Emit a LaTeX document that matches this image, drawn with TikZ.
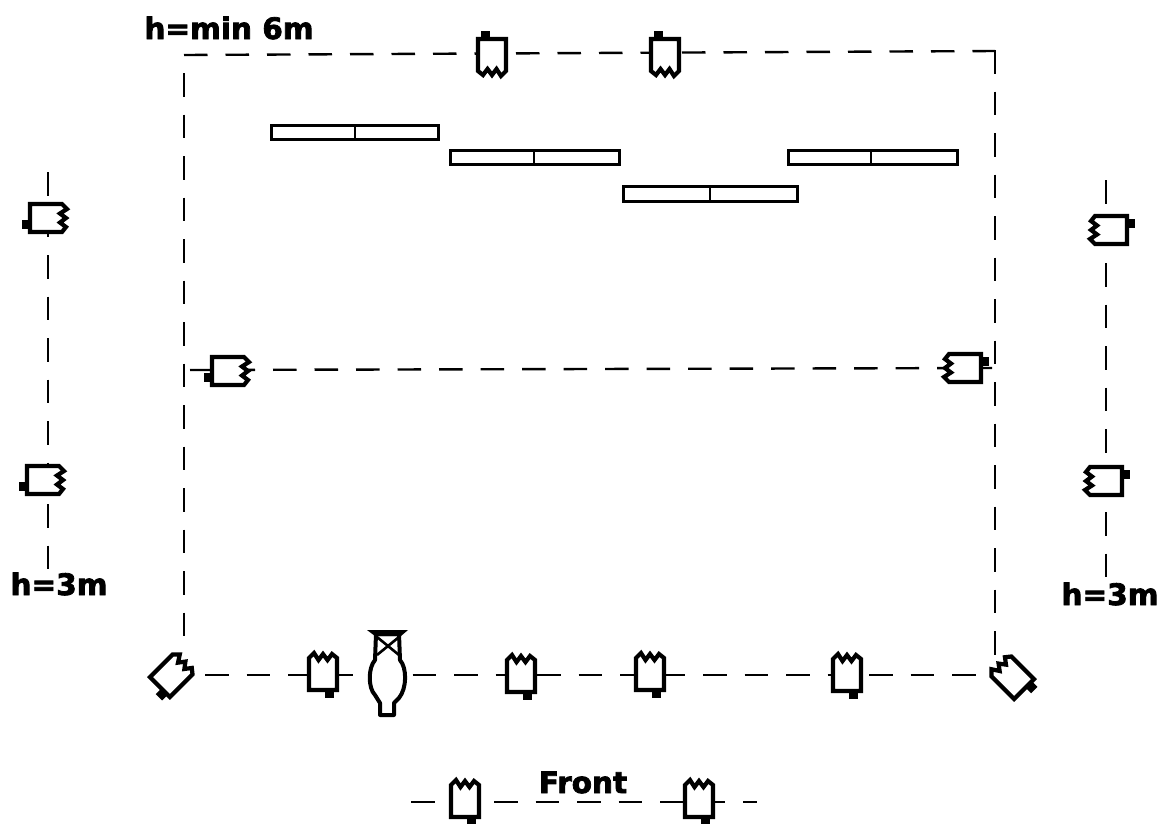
\documentclass[tikz,border=0pt]{standalone}
\usepackage{fontspec}
\newfontfamily\blk[FakeBold=2.6]{DejaVu Sans Bold}
\tikzset{
  x=1pt,y=-1pt,
  lampline/.style={line width=4.2pt,line join=miter,miter limit=3},
  guide/.style={line width=2.4pt,dash pattern=on 23.5pt off 18pt},
  panel/.style={draw,line width=3pt,fill=white},
  lbl/.style={font=\blk\fontsize{29.5}{30}\selectfont,inner sep=0pt,anchor=base},
  lamp/.pic={
    \fill (2,17) rectangle (11,25);
    \draw[lampline,fill=white] (-14,17) -- (-14,-15) -- (-9,-20) -- (-4.5,-13) -- (0,-19) -- (4.5,-13) -- (9,-19) -- (14,-15) -- (14,17) -- cycle;
  }
}
\begin{document}
\begin{tikzpicture}
\useasboundingbox (0,0) rectangle (1163,823);
\fill[white] (0,0) rectangle (1163,823);
% guides
\coordinate (tl) at (184,55); \coordinate (tr) at (995,51);
\coordinate (ll1) at (184,73); \coordinate (ll2) at (184,638);
\coordinate (rl1) at (995,50); \coordinate (rl2) at (995,655);
\coordinate (bl) at (205,675); \coordinate (br) at (985,675);
\coordinate (ml) at (190,370); \coordinate (mr) at (992,368);
\coordinate (sl1) at (48,172); \coordinate (sl2) at (48,575);
\coordinate (sr1) at (1106,180); \coordinate (sr2) at (1106,578);
\coordinate (fl) at (411,802); \coordinate (fr) at (757,802);
\draw[guide] (tl)--(tr);
\draw[guide] (ll1)--(ll2);
\draw[guide] (rl1)--(rl2);
\draw[guide] (bl)--(br);
\draw[guide] (ml)--(mr);
\draw[guide] (sl1)--(sl2);
\draw[guide] (sr1)--(sr2);
\draw[guide] (fl)--(fr);
% panels
\foreach \a/\b/\c/\d/\m in {271/125/438/139/355,450/150/619/164/534,623/186/797/201/710,788/150/957/164/871}{
  \draw[panel] (\a,\b) rectangle (\c,\d);
  \draw[line width=2.4pt] (\m,\b) -- (\m,\d);
}
% lamps
\foreach \x/\y/\r in {
  492/56/180,665/56/180,
  47/218/90,44/480/90,229/371/90,
  964/368/-90,1110/230/-90,1105/481/-90,
  323/673/0,521/675/0,650/673/0,847/674/0,
  465/800/0,699/800/0,
  172/675/45,1012/677/-45}{
  \pic[rotate=-\r] at (\x,\y) {lamp};
}
% figure
\draw[line width=4pt,line join=round,fill=white] (380,715) -- (380,703) -- (375,695) .. controls (368,688) and (368,668) .. (375,660) -- (376,634) -- (399,634) -- (400,660) .. controls (407,668) and (407,688) .. (399,698) -- (394,703) -- (394,715) -- cycle;
\fill (367,630) -- (408,630) -- (401,636) -- (375,636) -- cycle;
\draw[line width=2.6pt] (377,637) -- (399,655) (399,637) -- (377,655);
% text
\node[lbl] (t1) at (229,39) {h=min 6m};
\node[lbl] (t2) at (59,595) {h=3m};
\node[lbl] (t3) at (1110,605) {h=3m};
\node[lbl] (t4) at (583,793) {Front};
\end{tikzpicture}
\end{document}
